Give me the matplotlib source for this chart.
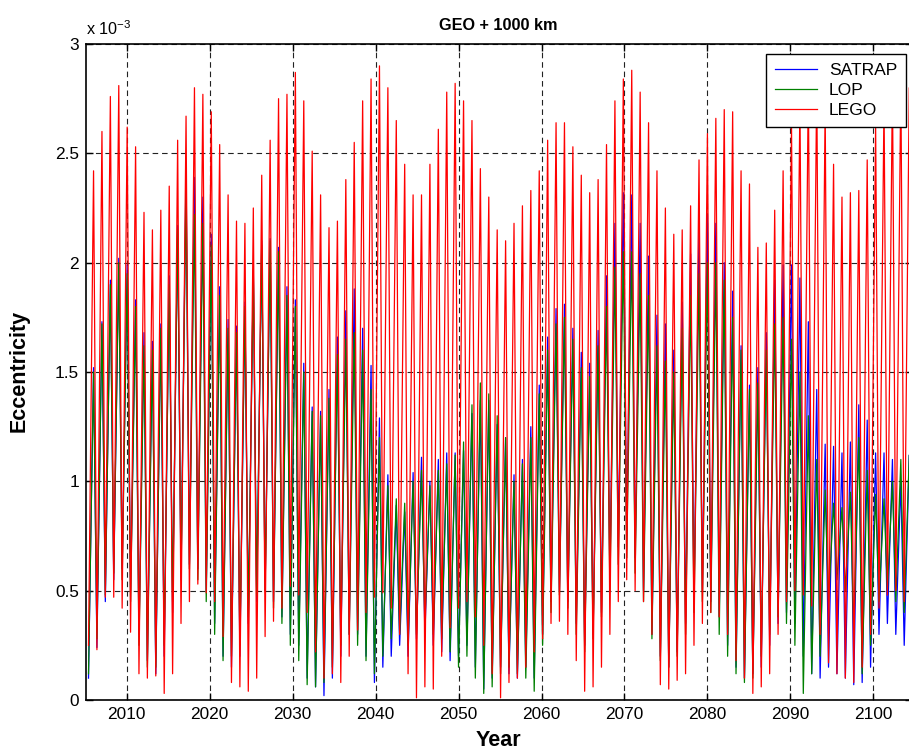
import matplotlib
matplotlib.use("Agg")
import matplotlib.pyplot as plt
import numpy as np


#---Données : maxima et minima de chaque cycle annuel (excentricité en 1e-3)------------
premier_pic = 2006.0      # date du premier maximum
periode = 1.0137          # durée d'un cycle (années)

satrap_pics = [1.52, 1.73, 1.92, 2.02, 1.99, 1.83, 1.68, 1.64, 1.72, 1.94,
               2.17, 2.43, 2.39, 2.30, 2.13, 1.89, 1.74, 1.71, 1.82, 1.97,
               2.10, 2.11, 2.07, 1.89, 1.83,
               1.54, 1.34, 1.32, 1.42, 1.66, 1.78, 1.88, 1.70, 1.53, 1.29,
               1.03, 0.89, 0.86, 1.04, 1.11, 1.00, 1.10, 1.13, 1.13, 1.14,
               1.31, 1.37, 1.37, 1.26, 1.20,
               1.03, 1.10, 1.25, 1.44, 1.66, 1.79, 1.81, 1.70, 1.59, 1.54,
               1.69, 1.94, 2.18, 2.32, 2.31, 2.18, 2.03, 1.76, 1.72, 1.60,
               1.82, 2.04, 2.15, 2.22,
               2.18, 2.00, 1.87, 1.62, 1.44, 1.52, 1.68, 1.92, 1.99, 1.99,
               1.93, 1.73, 1.42, 1.17, 1.16, 1.13, 1.18, 1.35, 1.28, 1.13,
               1.13, 1.10, 1.00, 1.12]
satrap_creux = [0.10, 0.24, 0.45, 0.55, 0.60, 0.50, 0.30, 0.18, 0.12, 0.20,
                0.40, 0.55, 0.62, 0.60, 0.50, 0.35, 0.20, 0.15, 0.20, 0.35,
                0.45, 0.50, 0.45, 0.38, 0.30, 0.25, 0.10, 0.06, 0.02, 0.10,
                0.20, 0.30, 0.30, 0.20, 0.08, 0.15, 0.20, 0.25, 0.20, 0.28,
                0.30, 0.25, 0.22, 0.18, 0.20, 0.25, 0.15, 0.05, 0.10, 0.15,
                0.12, 0.10, 0.15, 0.10, 0.30, 0.45, 0.50, 0.45, 0.35, 0.25,
                0.30, 0.40, 0.55, 0.70, 0.75, 0.65, 0.50, 0.30, 0.20, 0.15,
                0.22, 0.35, 0.45, 0.50, 0.45, 0.38, 0.25, 0.15, 0.10, 0.12,
                0.15, 0.25, 0.35, 0.40, 0.35, 0.20, 0.12, 0.10, 0.15, 0.12,
                0.10, 0.07, 0.08, 0.15, 0.30, 0.35, 0.30, 0.25, 0.20]

lop_pics = [1.50, 1.72, 1.90, 2.00, 1.95, 1.80, 1.62, 1.60, 1.70, 1.90,
            2.15, 2.35, 2.22, 2.18, 2.08, 1.85, 1.70, 1.68, 1.80, 1.95,
            2.08, 2.10, 2.05, 1.85, 1.80,
            1.50, 1.32, 1.30, 1.38, 1.58, 1.65, 1.68, 1.60, 1.42, 1.20,
            0.98, 0.92, 0.90, 1.00, 1.05, 0.98, 1.05, 1.08, 1.12, 1.18,
            1.35, 1.45, 1.40, 1.30, 1.20,
            1.00, 1.08, 1.20, 1.40, 1.60, 1.72, 1.75, 1.65, 1.52, 1.48,
            1.62, 1.80, 1.98, 2.05, 2.05, 1.95, 1.85, 1.62, 1.55, 1.50,
            1.70, 1.85, 1.95, 2.00,
            2.00, 1.92, 1.75, 1.60, 1.42, 1.45, 1.60, 1.72, 1.75, 1.65,
            1.50, 1.30, 1.10, 0.96, 0.90, 0.88, 0.95, 1.20, 1.05, 0.94,
            0.92, 1.00, 1.10, 1.12]
lop_creux = [0.12, 0.28, 0.48, 0.58, 0.55, 0.45, 0.25, 0.15, 0.15, 0.25,
             0.45, 0.58, 0.60, 0.55, 0.45, 0.30, 0.18, 0.20, 0.25, 0.38,
             0.48, 0.50, 0.42, 0.35, 0.25, 0.18, 0.07, 0.06, 0.08, 0.15,
             0.25, 0.30, 0.25, 0.18, 0.12, 0.20, 0.28, 0.30, 0.25, 0.30,
             0.35, 0.30, 0.28, 0.22, 0.15, 0.20, 0.10, 0.03, 0.06, 0.12,
             0.15, 0.12, 0.10, 0.04, 0.25, 0.40, 0.48, 0.42, 0.30, 0.22,
             0.28, 0.38, 0.50, 0.62, 0.65, 0.58, 0.45, 0.28, 0.18, 0.15,
             0.20, 0.30, 0.40, 0.45, 0.40, 0.30, 0.20, 0.12, 0.08, 0.10,
             0.20, 0.30, 0.38, 0.35, 0.25, 0.03, 0.12, 0.20, 0.45, 0.55,
             0.50, 0.30, 0.12, 0.25, 0.45, 0.50, 0.45, 0.40, 0.35]

lego_pics = [2.42, 2.60, 2.76, 2.81, 2.62, 2.53, 2.23, 2.15, 2.24, 2.35,
             2.56, 2.67, 2.80, 2.77, 2.69, 2.54, 2.31, 2.19, 2.18, 2.25,
             2.40, 2.56, 2.75, 2.77, 2.87,
             2.74, 2.51, 2.31, 2.16, 2.19, 2.38, 2.55, 2.74, 2.84, 2.90,
             2.80, 2.65, 2.45, 2.31, 2.31, 2.45, 2.61, 2.78, 2.82, 2.74,
             2.65, 2.43, 2.30, 2.15, 2.10,
             2.18, 2.26, 2.33, 2.42, 2.56, 2.64, 2.64, 2.53, 2.40, 2.32,
             2.38, 2.54, 2.74, 2.84, 2.88, 2.78, 2.64, 2.42, 2.25, 2.13,
             2.15, 2.26, 2.47, 2.59,
             2.66, 2.70, 2.69, 2.42, 2.36, 2.07, 2.09, 2.24, 2.42, 2.62,
             2.74, 2.82, 2.84, 2.72, 2.45, 2.30, 2.32, 2.33, 2.47, 2.63,
             2.74, 2.82, 2.84, 2.80]
lego_creux = [0.25, 0.23, 0.47, 0.47, 0.42, 0.31, 0.12, 0.10, 0.11, 0.03,
              0.12, 0.35, 0.45, 0.53, 0.49, 0.45, 0.29, 0.08, 0.06, 0.04,
              0.10, 0.29, 0.36, 0.42, 0.52, 0.48, 0.40, 0.22, 0.10, 0.12,
              0.08, 0.20, 0.32, 0.40, 0.47, 0.49, 0.42, 0.30, 0.12, 0.01,
              0.06, 0.05, 0.20, 0.33, 0.42, 0.45, 0.38, 0.25, 0.12, 0.01,
              0.08, 0.10, 0.15, 0.22, 0.28, 0.35, 0.36, 0.30, 0.18, 0.04,
              0.06, 0.15, 0.30, 0.45, 0.55, 0.50, 0.45, 0.30, 0.07, 0.05,
              0.09, 0.12, 0.25, 0.35, 0.40, 0.38, 0.30, 0.18, 0.10, 0.03,
              0.06, 0.12, 0.30, 0.45, 0.50, 0.48, 0.43, 0.30, 0.17, 0.12,
              0.10, 0.08, 0.15, 0.30, 0.42, 0.48, 0.50, 0.45, 0.40]

graduations_x = [2010, 2020, 2030, 2040, 2050, 2060, 2070, 2080, 2090, 2100]
graduations_y = [0, 0.5, 1, 1.5, 2, 2.5, 3]
etiquettes_y = ["0", "0.5", "1", "1.5", "2", "2.5", "3"]


#---Reconstruction de la courbe : un creux avant chaque pic, plus un creux final------------
def serie(pics, creux):
    t_pics = premier_pic + periode * np.arange(len(pics))
    t_creux = np.append(t_pics - 0.6 * periode, t_pics[-1] + 0.4 * periode)
    t = np.empty(len(pics) + len(creux))
    e = np.empty_like(t)
    t[0::2] = t_creux
    t[1::2] = t_pics
    e[0::2] = creux
    e[1::2] = pics
    return t, e


plt.rcParams['font.family'] = ['Liberation Sans', 'DejaVu Sans']
plt.rcParams['mathtext.default'] = 'regular'

L, H = 909, 749
fig = plt.figure(figsize=(L / 100, H / 100), dpi=100)
# L'axe déborde à droite de l'image (comme l'original exporté)
ax = fig.add_axes([86 / L, 1 - 700 / H, (912 - 86) / L, (700 - 44) / H])

t, e = serie(satrap_pics, satrap_creux)
ax.plot(t, e, color='#0000ff', lw=0.9, label='SATRAP')
t, e = serie(lop_pics, lop_creux)
ax.plot(t, e, color='#008000', lw=0.9, label='LOP')
t, e = serie(lego_pics, lego_creux)
ax.plot(t, e, color='#ff0000', lw=0.9, label='LEGO')

ax.set_xlim(2005.09, 2104.66)
ax.set_ylim(0, 3)
ax.set_xticks(graduations_x)
ax.set_yticks(graduations_y)
ax.set_yticklabels(etiquettes_y)

# Quadrillage en tirets noirs
ax.grid(True, color='#222222', linestyle=(0, (5, 3.5)), linewidth=0.8)
ax.tick_params(direction='in', top=True, right=True, length=5, width=1,
               labelsize=12.4, pad=5)
for s in ax.spines.values():
    s.set_linewidth(1.2)

# Textes
fig.text(498 / L, 1 - 30 / H, 'GEO + 1000 km', ha='center', va='baseline',
         fontsize=11.7, fontweight='bold')
fig.text(86 / L, 1 - 35 / H, r'x 10$^{-3}$', ha='left', va='baseline', fontsize=11.7)
fig.text(498 / L, 1 - 745.5 / H, 'Year', ha='center', va='baseline',
         fontsize=15.5, fontweight='bold')
fig.text(25 / L, 1 - 371 / H, 'Eccentricity', rotation=90, rotation_mode='anchor',
         ha='center', va='baseline', fontsize=15.5, fontweight='bold')

leg = ax.legend(loc='upper right', bbox_to_anchor=(906 / L, 1 - 54 / H),
                bbox_transform=fig.transFigure, borderaxespad=0, fancybox=False,
                framealpha=1, edgecolor='k', fontsize=12.6, handlelength=2.4,
                handletextpad=0.7, labelspacing=0.27, borderpad=0.5)
leg.get_frame().set_linewidth(1.0)

fig.savefig('out.png', dpi=100)
